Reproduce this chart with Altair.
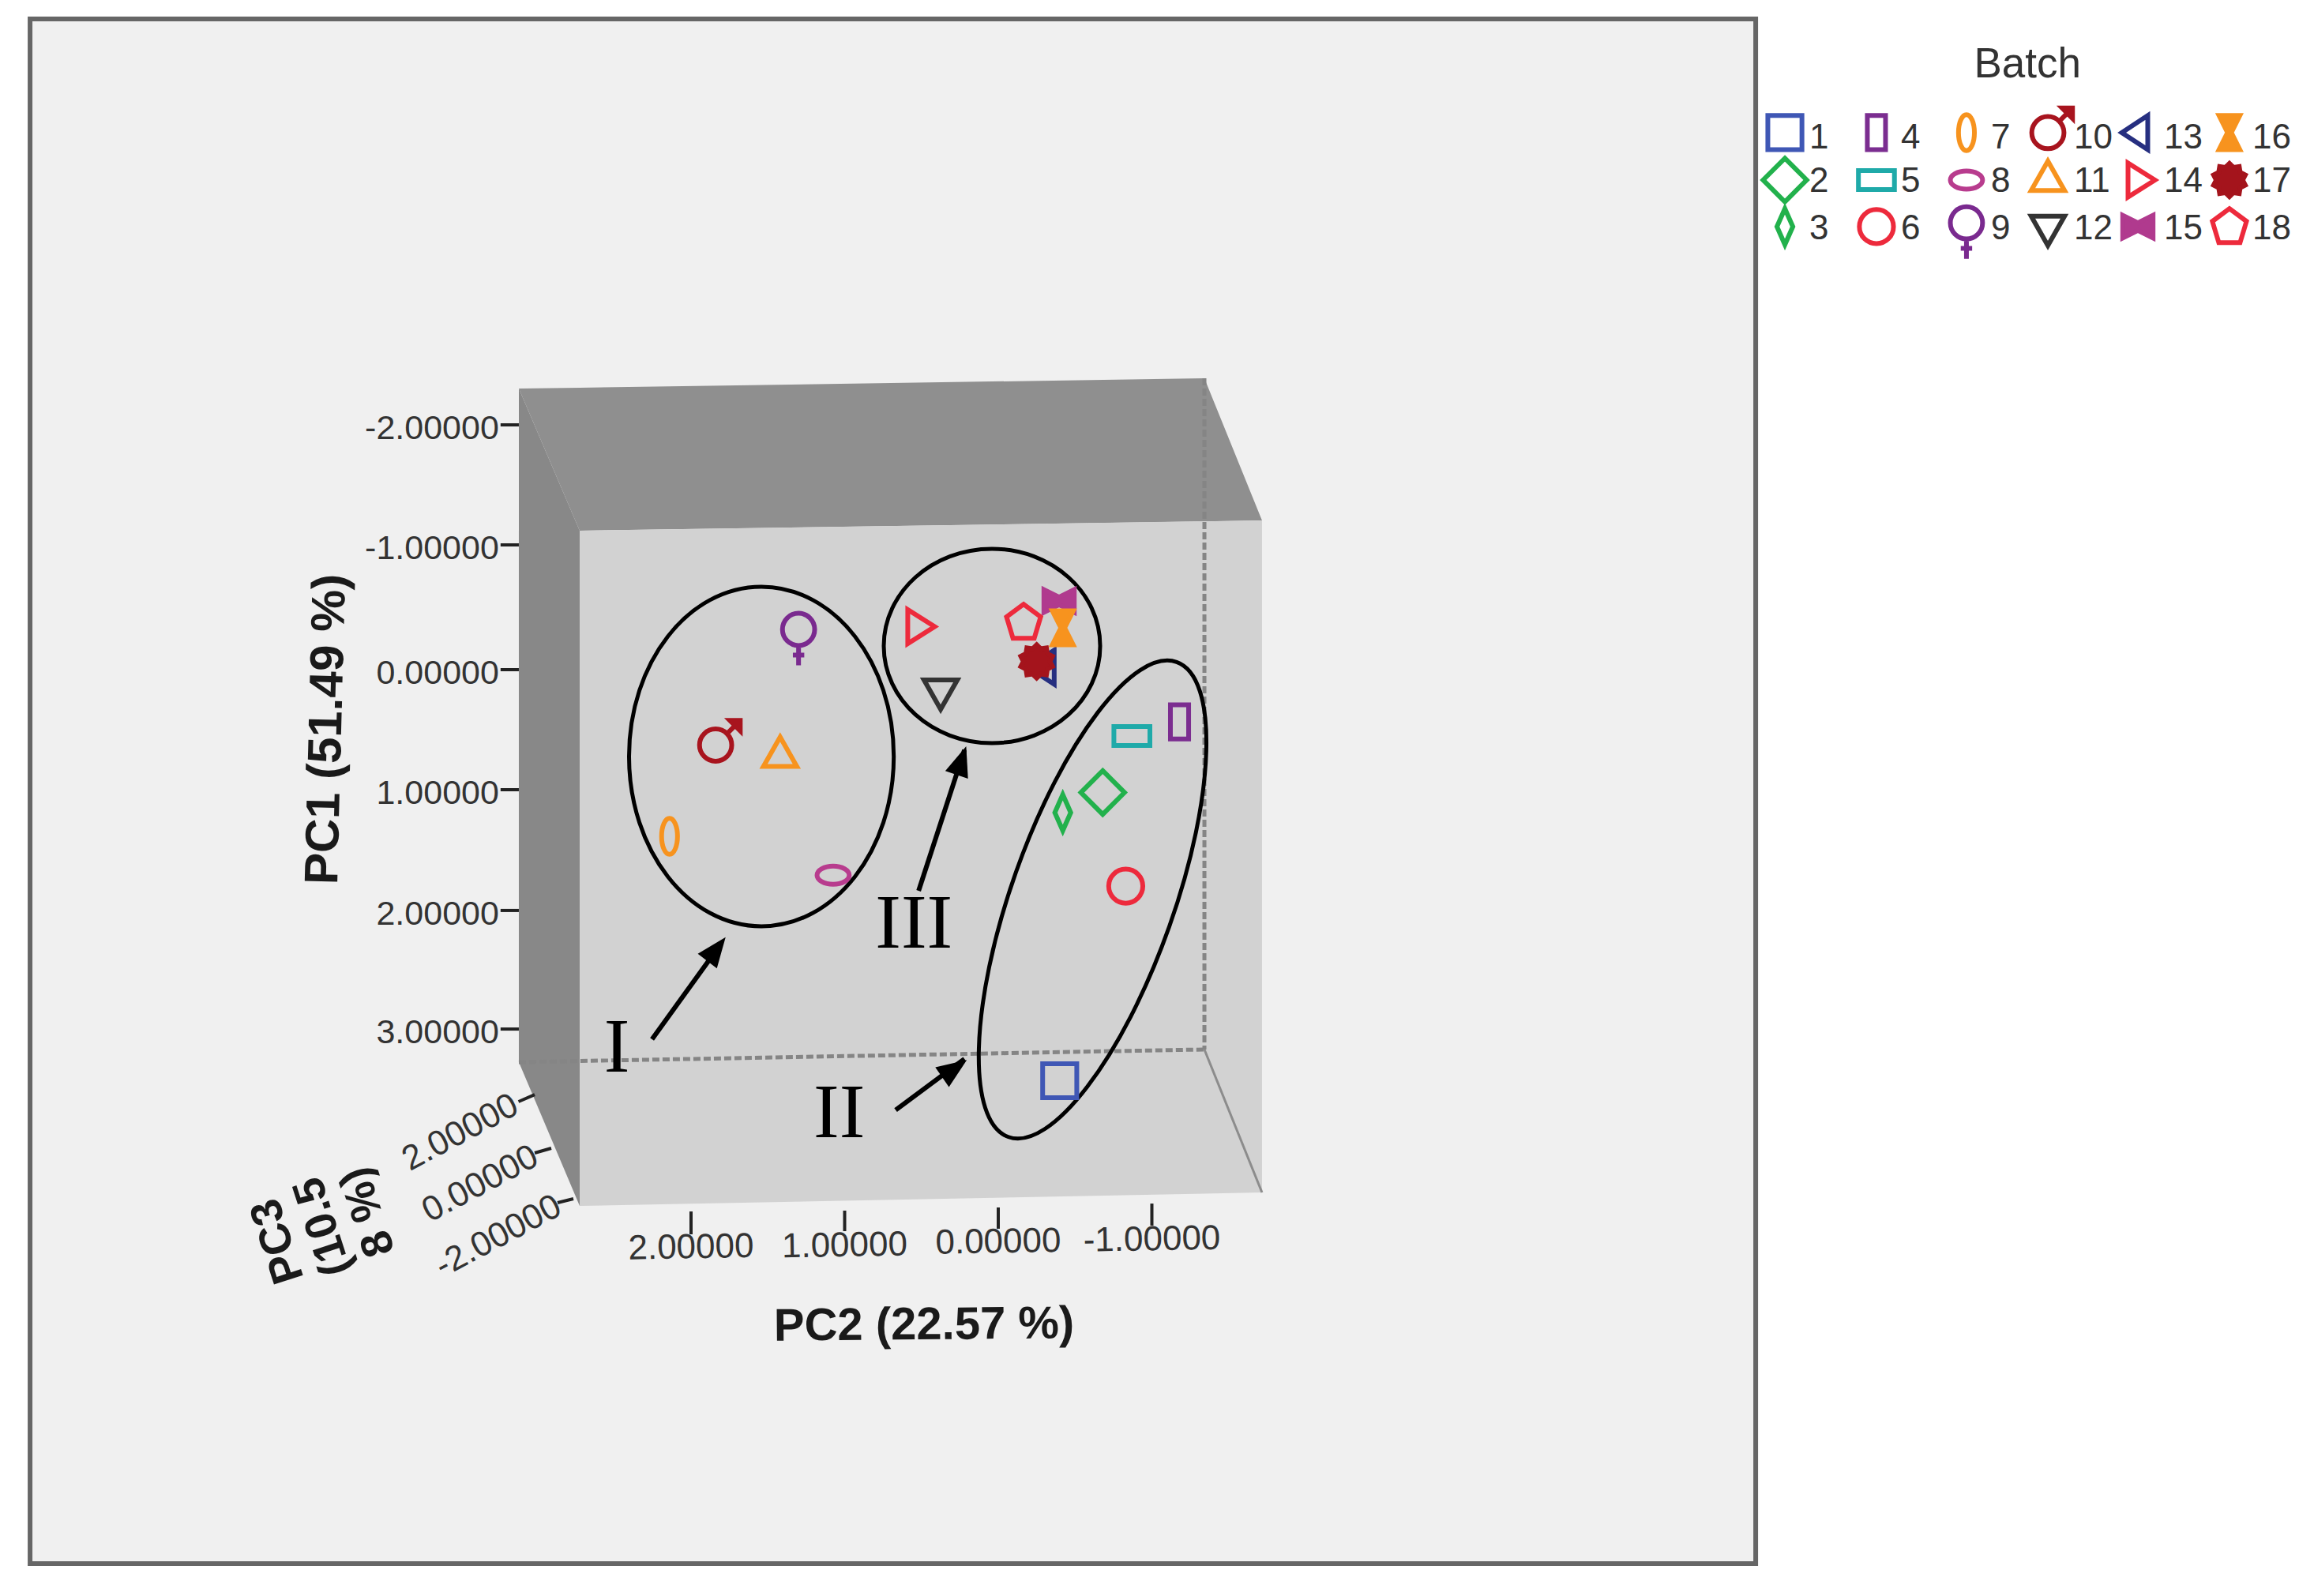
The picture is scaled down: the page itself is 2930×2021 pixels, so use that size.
import math
import altair as alt
import pandas as pd

# --- chart values (PC2, PC1) ---
batches = [str(i) for i in range(1, 19)]
pc2 = [-0.40, -0.68, -0.42, -1.18, -0.87, -0.83, 2.14, 1.075, 1.30, 1.84, 1.42, 0.375, -0.30, 0.525, -0.396, -0.42, -0.25, -0.165]
pc1 = [3.38, 1.01, 1.175, 0.43, 0.545, 1.78, 1.37, 1.69, -0.30, 0.62, 0.71, 0.17, -0.02, -0.354, -0.565, -0.344, -0.068, -0.39]
colors = ["#3f57b5", "#22b14c", "#22b14c", "#7b2d90", "#1faaa9", "#ed2a3c", "#f7931e", "#b83c8e", "#7a2a8f",
          "#a8141e", "#f7931e", "#333333", "#262f80", "#ed2a3c", "#b03a8e", "#f7931e", "#a4141c", "#ed2a3c"]

pc1_ticks = [-2.013, -1.026, 0.0, 0.987, 1.98, 2.955]
pc1_labels = ["-2.00000", "-1.00000", "0.00000", "1.00000", "2.00000", "3.00000"]
pc2_tick_x = [2.0, 1.0, 0.0, -1.0]
pc2_tick_top = [4.455, 4.448, 4.422, 4.39]
pc2_tick_bot = [4.643, 4.617, 4.597, 4.571]
pc2_label_y = [4.755, 4.74, 4.71, 4.69]
pc2_labels = ["2.00000", "1.00000", "0.00000", "-1.00000"]
pc3_tick_x = [3.123, 3.018, 2.869]
pc3_tick_x2 = [3.018, 2.910, 2.766]
pc3_tick_y = [3.552, 3.974, 4.383]
pc3_tick_y2 = [3.494, 3.935, 4.351]
pc3_label_x = [3.14, 3.01, 2.86]
pc3_label_y = [3.565, 3.987, 4.396]
pc3_labels = ["2.00000", "0.00000", "-2.00000"]

legend_col_x = [-5.121, -5.717, -6.303, -6.833, -7.419, -8.015]
legend_row_y = [-4.416, -4.026, -3.643]
legend_label_x = [-5.280, -5.877, -6.463, -7.003, -7.589, -8.165]
legend_label_y = [-4.370, -4.013, -3.623]

# --- marker outlines ---
def poly(pts):
    return "M" + " L".join(f"{x:.3f} {y:.3f}" for x, y in pts) + " Z"

def ell(rx, ry, cx=0.0, cy=0.0):
    k = 0.5523
    return (f"M{cx-rx:.3f} {cy:.3f} "
            f"C{cx-rx:.3f} {cy-k*ry:.3f} {cx-k*rx:.3f} {cy-ry:.3f} {cx:.3f} {cy-ry:.3f} "
            f"C{cx+k*rx:.3f} {cy-ry:.3f} {cx+rx:.3f} {cy-k*ry:.3f} {cx+rx:.3f} {cy:.3f} "
            f"C{cx+rx:.3f} {cy+k*ry:.3f} {cx+k*rx:.3f} {cy+ry:.3f} {cx:.3f} {cy+ry:.3f} "
            f"C{cx-k*rx:.3f} {cy+ry:.3f} {cx-rx:.3f} {cy+k*ry:.3f} {cx-rx:.3f} {cy:.3f} Z")

def star(n, r1, r2):
    return poly([((r1 if i % 2 == 0 else r2) * math.sin(i * math.pi / n),
                  -(r1 if i % 2 == 0 else r2) * math.cos(i * math.pi / n)) for i in range(2 * n)])

shapes = [
    poly([(-.9, -.9), (.9, -.9), (.9, .9), (-.9, .9)]),
    poly([(0, -1.15), (1.15, 0), (0, 1.15), (-1.15, 0)]),
    poly([(0, -.95), (.42, 0), (0, .95), (-.42, 0)]),
    poly([(-.48, -.9), (.48, -.9), (.48, .9), (-.48, .9)]),
    poly([(-.95, -.5), (.95, -.5), (.95, .5), (-.95, .5)]),
    ell(.9, .9),
    ell(.42, .95),
    ell(.85, .48),
    ell(.85, .85, 0, -.2) + " M0 .65 L0 1.7 M-.3 1.15 L.3 1.15",
    ell(.85, .85) + " M.6 -.6 L1.25 -1.25 M.75 -1.3 L1.3 -1.3 L1.3 -.75 Z",
    poly([(0, -1.0), (.88, .55), (-.88, .55)]),
    poly([(-.88, -.55), (.88, -.55), (0, 1.0)]),
    poly([(.52, -.9), (.52, .9), (-.85, 0)]),
    poly([(-.52, -.9), (-.52, .9), (.9, 0)]),
    poly([(-.8, -.6), (0, -.2), (.8, -.6), (.8, .6), (0, .2), (-.8, .6)]),
    poly([(-.55, -.9), (.55, -.9), (.1, 0), (.55, .9), (-.55, .9), (-.1, 0)]),
    star(10, .88, .70),
    poly([(0, -.95), (.9, -.28), (.56, .85), (-.56, .85), (-.9, -.28)]),
]
fills = ["transparent"] * 18
fills[14], fills[15], fills[16] = colors[14], colors[15], colors[16]

# --- scales: frame of the whole picture ---
xs = alt.Scale(domain=[6.4576, -8.5244], nice=False, zero=False)
ys = alt.Scale(domain=[7.5649, -5.4545], nice=False, zero=False)
X = lambda f="x": alt.X(f"{f}:Q", scale=xs, axis=None)
Y = lambda f="y": alt.Y(f"{f}:Q", scale=ys, axis=None)

FONT = "Liberation Sans"
layers = []

# frame
frame = pd.DataFrame({"x": [6.303], "x2": [-4.931], "y": [-5.351], "y2": [7.35]})
layers.append(alt.Chart(frame).mark_rect(fill="#f0f0f0", stroke="#666666", strokeWidth=6).encode(
    x=X(), x2="x2:Q", y=Y(), y2="y2:Q"))

# 3-D box faces
def face(xv, yv, y2v, color):
    d = pd.DataFrame({"x": xv, "y": yv, "y2": y2v})
    return alt.Chart(d).mark_area(fill=color, stroke=None, opacity=1).encode(
        x=X(), y=Y(), y2=alt.Y2("y2:Q"))

layers.append(face([3.121, 2.725, -1.342, -1.717], [-2.312, -2.318, -2.396, -1.227],
                   [-2.312, -1.143, -1.219, -1.227], "#8f8f8f"))
layers.append(face([3.121, 2.725], [-2.312, -1.143], [3.227, 4.409], "#888888"))
layers.append(face([2.725, -1.717], [-1.143, -1.227], [4.409, 4.299], "#d2d2d2"))

# hidden edges of the box
dash = pd.DataFrame({"x": [3.121, -1.342], "x2": [-1.342, -1.342], "y": [3.227, -2.396], "y2": [3.123, 3.123]})
layers.append(alt.Chart(dash).mark_rule(color="#858585", strokeWidth=5, strokeDash=[9, 4]).encode(
    x=X(), x2="x2:Q", y=Y(), y2="y2:Q"))
edge = pd.DataFrame({"x": [-1.342], "x2": [-1.717], "y": [3.123], "y2": [4.299]})
layers.append(alt.Chart(edge).mark_rule(color="#8c8c8c", strokeWidth=3).encode(
    x=X(), x2="x2:Q", y=Y(), y2="y2:Q"))

# ticks
ticks = pd.DataFrame(
    [{"x": 3.24, "x2": 3.121, "y": v, "y2": v} for v in pc1_ticks] +
    [{"x": a, "x2": a, "y": t, "y2": b} for a, t, b in zip(pc2_tick_x, pc2_tick_top, pc2_tick_bot)] +
    [{"x": a, "x2": b, "y": c, "y2": d} for a, b, c, d in zip(pc3_tick_x, pc3_tick_x2, pc3_tick_y, pc3_tick_y2)])
layers.append(alt.Chart(ticks).mark_rule(color="#222222", strokeWidth=4).encode(
    x=X(), x2="x2:Q", y=Y(), y2="y2:Q"))

# tick labels and axis titles
def text(xv, yv, labels, **kw):
    d = pd.DataFrame({"x": xv, "y": yv, "t": labels})
    kw.setdefault("font", FONT)
    kw.setdefault("color", "#333333")
    kw.setdefault("baseline", "middle")
    return alt.Chart(d).mark_text(**kw).encode(x=X(), y=Y(), text="t:N")

layers.append(text([3.25] * 6, [v + 0.03 for v in pc1_ticks], pc1_labels, fontSize=43, align="right"))
layers.append(text(pc2_tick_x, pc2_label_y, pc2_labels, fontSize=44, align="center", angle=359))
layers.append(text(pc3_label_x, pc3_label_y, pc3_labels, fontSize=44, align="right", angle=332))
layers.append(text([0.483], [5.396], ["PC2 (22.57 %)"], fontSize=58, fontWeight="bold",
                   color="#1a1a1a", align="center", angle=359.5))
layers.append(text([4.37], [0.49], ["PC1 (51.49 %)"], fontSize=60, fontWeight="bold",
                   color="#1a1a1a", align="center", angle=271.5))
layers.append(text([4.69], [4.70], ["PC3\n(10.5\n8 %)"], fontSize=56, fontWeight="bold", lineBreak="\n",
                   lineHeight=60, color="#1a1a1a", align="center", angle=252))

# group outlines
def outline(x, y, rx, ry, ang):
    d = pd.DataFrame({"x": [x], "y": [y]})
    return alt.Chart(d).mark_point(shape=ell(rx, ry), size=40000, filled=False, color="#000000",
                                   opacity=1, strokeWidth=5, angle=ang).encode(x=X(), y=Y())

layers.append(outline(1.542, 0.714, 1.676, 2.15, 0))
layers.append(outline(0.041, -0.195, 1.37, 1.23, 0))
layers.append(outline(-0.614, 1.89, 1.03, 3.19, 19.5))

# arrows
arrows = pd.DataFrame({
    "x": [2.254, 0.5185, 0.668], "y": [3.039, 1.818, 3.621],
    "x2": [1.871, 0.22, 0.22], "y2": [2.368, 0.66, 3.2],
})
layers.append(alt.Chart(arrows).mark_rule(color="#000000", strokeWidth=6).encode(
    x=X(), x2="x2:Q", y=Y(), y2="y2:Q"))
head_x = [1.775, 0.2087, 0.2046]
head_y = [2.20, 0.630, 3.21]
head_a = [37.5, 18.6, 55.4]
head = poly([(0, 0), (.4, 1), (-.4, 1)])
for hx, hy, ha in zip(head_x, head_y, head_a):
    d = pd.DataFrame({"x": [hx], "y": [hy]})
    layers.append(alt.Chart(d).mark_point(shape=head, size=5776, filled=True, color="#000000", opacity=1,
                                          angle=ha).encode(x=X(), y=Y()))

# group numerals
layers.append(text([2.483, 1.035, 0.5488], [3.117, 3.656, 2.099], ["I", "II", "III"],
                   font="Liberation Serif", fontSize=98, color="#000000", align="center"))

# batches: plotted points and the key, through the same scales
shape_enc = alt.Shape("batch:N", scale=alt.Scale(domain=batches, range=shapes), legend=None)
stroke_enc = alt.Stroke("batch:N", scale=alt.Scale(domain=batches, range=colors), legend=None)
fill_enc = alt.Fill("batch:N", scale=alt.Scale(domain=batches, range=fills), legend=None)

def markers(d):
    return alt.Chart(d).mark_point(size=2304, strokeWidth=6, opacity=1, fillOpacity=1, strokeJoin="miter").encode(
        x=X(), y=Y(), shape=shape_enc, stroke=stroke_enc, fill=fill_enc)

layers.append(markers(pd.DataFrame({"batch": batches, "x": pc2, "y": pc1})))

cols = [(i // 3, i % 3) for i in range(18)]
layers.append(markers(pd.DataFrame({"batch": batches,
                                    "x": [legend_col_x[c] for c, r in cols],
                                    "y": [legend_row_y[r] for c, r in cols]})))
layers.append(text([legend_label_x[c] for c, r in cols], [legend_label_y[r] for c, r in cols], batches,
                   fontSize=44, align="left"))
layers.append(text([-6.70], [-4.974], ["Batch"], fontSize=53, align="center"))

chart = alt.layer(*layers).properties(
    width=2914, height=2005, padding=0, autosize=alt.AutoSizeParams(type="none"), background="#ffffff"
).configure_view(stroke=None)

chart.save("out.html", embed_options={"renderer": "svg", "actions": False})
